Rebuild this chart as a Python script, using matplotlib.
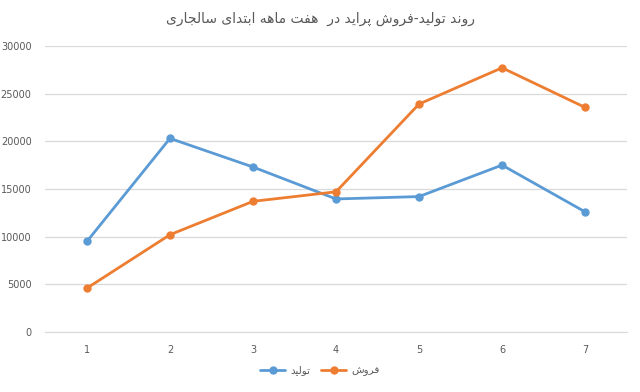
import matplotlib
matplotlib.use('Agg')
import matplotlib.pyplot as plt

months = [1, 2, 3, 4, 5, 6, 7]
production = [9500, 20300, 17300, 13950, 14200, 17500, 12600]
sales = [4600, 10200, 13700, 14700, 23900, 27700, 23550]
title = 'روند تولید-فروش پراید در  هفت ماهه ابتدای سالجاری'
name_production = 'تولید'
name_sales = 'فروش'

# contextual forms: isolated, final, initial, medial
FORMS = {
    'ا': ('\uFE8D', '\uFE8E', None, None),
    'ب': ('\uFE8F', '\uFE90', '\uFE91', '\uFE92'),
    'پ': ('\uFB56', '\uFB57', '\uFB58', '\uFB59'),
    'ت': ('\uFE95', '\uFE96', '\uFE97', '\uFE98'),
    'ج': ('\uFE9D', '\uFE9E', '\uFE9F', '\uFEA0'),
    'د': ('\uFEA9', '\uFEAA', None, None),
    'ر': ('\uFEAD', '\uFEAE', None, None),
    'س': ('\uFEB1', '\uFEB2', '\uFEB3', '\uFEB4'),
    'ش': ('\uFEB5', '\uFEB6', '\uFEB7', '\uFEB8'),
    'ف': ('\uFED1', '\uFED2', '\uFED3', '\uFED4'),
    'ل': ('\uFEDD', '\uFEDE', '\uFEDF', '\uFEE0'),
    'م': ('\uFEE1', '\uFEE2', '\uFEE3', '\uFEE4'),
    'ن': ('\uFEE5', '\uFEE6', '\uFEE7', '\uFEE8'),
    'ه': ('\uFEE9', '\uFEEA', '\uFEEB', '\uFEEC'),
    'و': ('\uFEED', '\uFEEE', None, None),
    'ی': ('\uFBFC', '\uFBFD', '\uFBFE', '\uFBFF'),
}


def shape(s):
    # matplotlib has no arabic shaping, so pick the joined forms by hand
    out = []
    for i, c in enumerate(s):
        if c not in FORMS:
            out.append(c)
            continue
        prev = s[i - 1] if i > 0 else ''
        nxt = s[i + 1] if i + 1 < len(s) else ''
        jp = prev in FORMS and FORMS[prev][2] is not None
        jn = FORMS[c][2] is not None and nxt in FORMS
        f = FORMS[c]
        if jp and jn:
            out.append(f[3])
        elif jp:
            out.append(f[1])
        elif jn:
            out.append(f[2])
        else:
            out.append(f[0])
    return ''.join(out)[::-1]


grey = '#595959'
fig = plt.figure(figsize=(6.4, 3.92), dpi=100)
ax = fig.add_axes([0.071, 0.153, 0.908, 0.730])

ax.plot(months, production, color='#5B9BD5', lw=2.0, marker='o', ms=5,
        label=shape(name_production), solid_capstyle='round')
ax.plot(months, sales, color='#ED7D31', lw=2.0, marker='o', ms=5,
        label=shape(name_sales), solid_capstyle='round')

ax.set_xlim(0.5, 7.5)
ax.set_ylim(0, 30000)
ax.set_xticks(months)
ax.set_yticks(range(0, 30001, 5000))
ax.grid(axis='y', color='#d9d9d9', lw=0.9)
ax.set_axisbelow(True)
for s in ['top', 'right', 'left']:
    ax.spines[s].set_visible(False)
ax.spines['bottom'].set_color('#d9d9d9')
ax.tick_params(length=0, labelsize=7, colors=grey)
ax.tick_params(axis='y', pad=10)
ax.tick_params(axis='x', pad=9)

fig.text(0.5, 0.953, shape(title), ha='center', va='center',
         fontsize=10, color=grey, family='DejaVu Sans')
fig.legend(loc='center', bbox_to_anchor=(0.5, 0.054), ncol=2, frameon=False,
           fontsize=7.5, labelcolor=grey, handlelength=2.4, columnspacing=1.0,
           handletextpad=0.5)

fig.savefig('out.png', dpi=100)
